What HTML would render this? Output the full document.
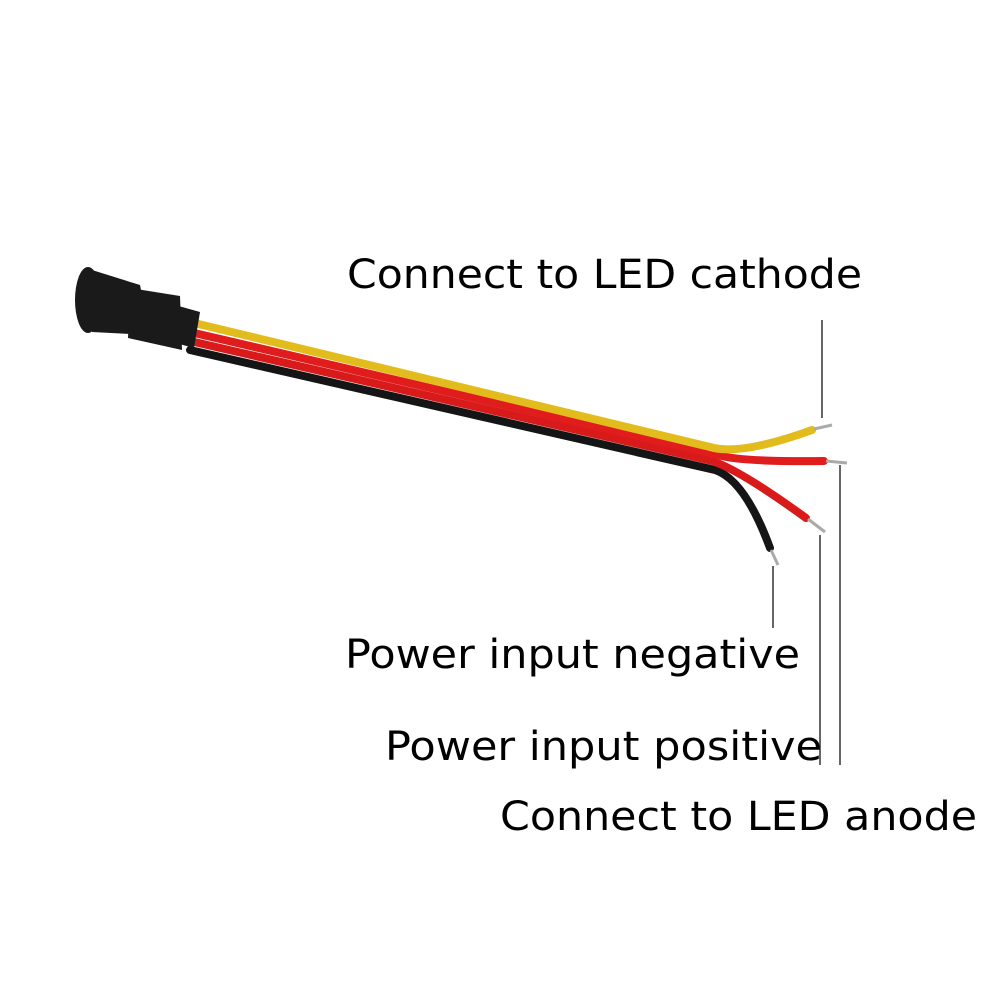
<!DOCTYPE html>
<html><head><style>html,body{margin:0;padding:0;background:#fff}</style></head>
<body>
<svg width="1002" height="1002" viewBox="0 0 1002 1002" xmlns="http://www.w3.org/2000/svg">
<rect width="1002" height="1002" fill="#fff"/>
<g fill="none" stroke-linecap="round">
<path d="M190,350 L715,470 Q745,480 770,548" stroke="#151515" stroke-width="8"/>
<path d="M190,341 L712,461 Q740,470 806,518" stroke="#d91a1a" stroke-width="8"/>
<path d="M190,332 L718,455 Q740,462 824,461" stroke="#e01c1c" stroke-width="8"/>
<path d="M190,322 L710,447 Q740,456 812,430" stroke="#e2bc1c" stroke-width="8"/>
</g>
<g stroke="#aaa" stroke-width="3" fill="none">
<path d="M771,550 L778,565"/><path d="M808,519 L825,532"/>
<path d="M826,461 L847,463"/><path d="M814,429 L832,425"/>
</g>
<g fill="#1a1a1a">
<ellipse cx="88" cy="300" rx="13" ry="33"/>
<path d="M92,270 L140,285 L150,335 L92,332 Z"/>
<path d="M130,288 L180,296 L182,350 L128,338 Z"/>
<path d="M175,305 L200,312 L194,348 L172,342 Z"/>
</g>
<g stroke="#333" stroke-width="1.5">
<line x1="822" y1="320" x2="822" y2="418"/>
<line x1="773" y1="566" x2="773" y2="628"/>
<line x1="820" y1="535" x2="820" y2="765"/>
<line x1="840" y1="465" x2="840" y2="765"/>
</g>
<g font-family="DejaVu Sans, sans-serif" font-size="40" fill="#000">
<text x="347" y="288" textLength="515" lengthAdjust="spacingAndGlyphs">Connect to LED cathode</text>
<text x="345" y="668" textLength="455" lengthAdjust="spacingAndGlyphs">Power input negative</text>
<text x="385" y="760" textLength="437" lengthAdjust="spacingAndGlyphs">Power input positive</text>
<text x="500" y="830" textLength="477" lengthAdjust="spacingAndGlyphs">Connect to LED anode</text>
</g>
</svg>
</body></html>
